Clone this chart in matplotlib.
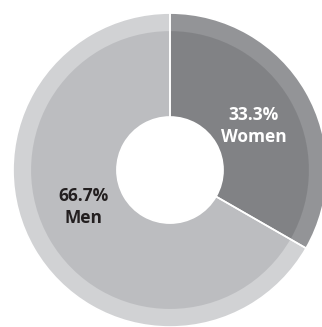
import matplotlib
matplotlib.use("Agg")
import matplotlib.pyplot as plt

# Anteile
labels = ["Women", "Men"]
shares = [33.3, 66.7]
inner_colors = ["#818285", "#bcbdc0"]
outer_colors = ["#939497", "#d1d2d4"]
text_colors = ["white", "#231f20"]

fig = plt.figure(figsize=(3.22, 3.27), dpi=100)
ax = fig.add_axes([0.0404, 0.0, 0.975, 0.960])

# aeusserer Ring
ax.pie(shares, radius=1.0, colors=outer_colors, startangle=90, counterclock=False,
       wedgeprops=dict(width=0.12, linewidth=0))
# innerer Ring
ax.pie(shares, radius=0.885, colors=inner_colors, startangle=90, counterclock=False,
       wedgeprops=dict(width=0.547, linewidth=0))
# weisse Trennlinien zwischen den Segmenten
ax.pie(shares, radius=1.0, startangle=90, counterclock=False,
       wedgeprops=dict(width=0.662, facecolor="none", edgecolor="white", linewidth=1.2))

# Beschriftung
pos = [(0.535, 0.28), (-0.548, -0.236)]
for (x, y), lab, val, c in zip(pos, labels, shares, text_colors):
    ax.text(x, y, f"{val:.1f}%\n{lab}", ha="center", va="center", color=c,
            fontsize=12.5, fontweight="bold", family="Open Sans", linespacing=1.3)

ax.set_xlim(-1, 1)
ax.set_ylim(-1, 1)
ax.set_aspect("equal")
ax.axis("off")

fig.savefig("out.png", dpi=100)
